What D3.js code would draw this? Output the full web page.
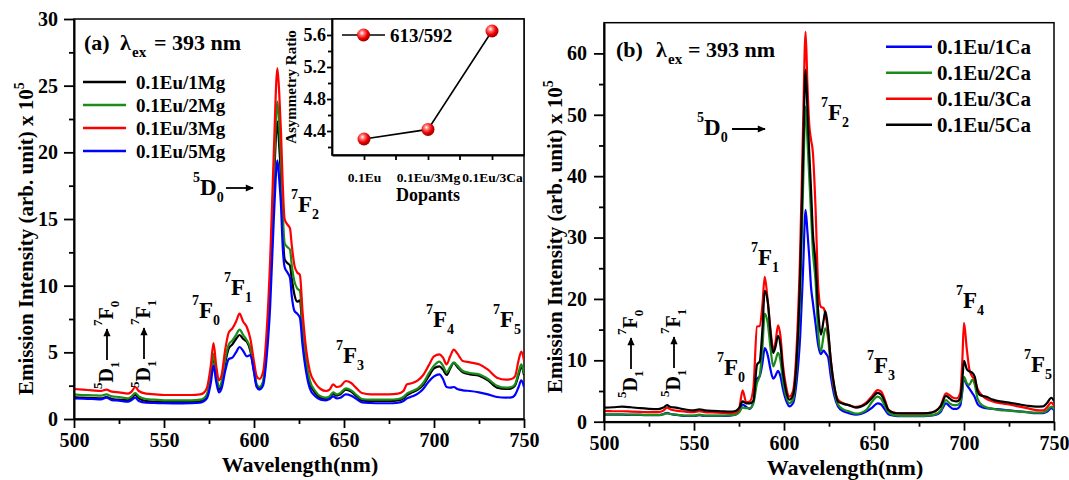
<!DOCTYPE html>
<html><head><meta charset="utf-8">
<script src="https://cdn.jsdelivr.net/npm/d3@7"></script>
<style>
body{margin:0;background:#fff}
svg{display:block}
text{font-family:"Liberation Serif","Times New Roman",serif;font-weight:bold;fill:#000}
</style>
</head><body>
<svg id="c" width="1069" height="480"></svg>
<script>
// ---------------- DATA ----------------
const ticksX = [500, 550, 600, 650, 700, 750];
const minorX = [525, 575, 625, 675, 725];
const ticksYA = [0, 5, 10, 15, 20, 25, 30];
const minorYA = [2.5, 7.5, 12.5, 17.5, 22.5, 27.5];
const ticksYB = [0, 10, 20, 30, 40, 50, 60];
const minorYB = [5, 15, 25, 35, 45, 55];

const waveA = [500,505,510,515,518,521,525,530,532,534,536,540,545,550,555,560,565,570,572,574,576,577.5,579,580.5,582,584,586,588,590,592,594,596,598,600,601.5,603,605,607,609,611,613,614,615,616,617,618.5,620,621,622.5,624,625.5,627,629,631,634,637,640,642,644,646,648,651,654,657,660,665,670,675,680,683,685,688,691,694,697,700,703,705,707,709,711,713,716,720,725,730,735,740,743,745,747,748.5,750];
const mg1 = [1.65,1.6,1.58,1.55,1.65,1.5,1.45,1.4,1.55,1.8, 1.55,1.35,1.3,1.28,1.27,1.27,1.28,1.33,1.45,1.8, 3.2,4.7,3.2,2.2,2.6,4.2,5.3,5.6,6.0,6.3, 6.0,5.8,5.1,3.6,2.5,2.3,2.7,5.2,10,17.5, 22.3,20.5,18,14,12,11.7,11.5,10.5,9.3,8.8, 8.9,6.5,4.1,2.7,1.95,1.6,1.5,1.6,1.9,1.75, 1.85,2.2,2.05,1.7,1.4,1.35,1.35,1.35,1.4,1.55, 1.8,2.0,2.2,2.55,3.2,3.8,3.95,3.7,3.3,3.8, 4.2,3.9,3.5,3.35,3.25,2.9,2.35,2.25,2.3,2.5, 3.3,3.9,3.3];
const mg2 = [1.85,1.8,1.78,1.75,1.85,1.7,1.65,1.55,1.7,1.95, 1.7,1.5,1.45,1.4,1.4,1.4,1.4,1.45,1.55,1.9, 3.3,4.9,3.4,2.4,2.8,4.5,5.6,5.9,6.3,6.7, 6.3,5.9,5.3,3.8,2.6,2.4,2.8,5.5,10.5,18.4, 23.8,22,19.5,15.5,13.2,12.9,12.7,11.5,10.3,9.8, 9.6,7,4.4,2.9,2.1,1.7,1.6,1.7,2.0,1.85, 1.95,2.3,2.15,1.8,1.5,1.45,1.45,1.45,1.5,1.65, 1.9,2.1,2.3,2.7,3.4,4.0,4.3,4.0,3.5,3.9, 4.25,4.0,3.6,3.45,3.35,3.0,2.5,2.35,2.4,2.6, 3.5,4.1,3.4];
const mg3 = [2.25,2.2,2.15,2.1,2.2,2.05,2.0,1.9,2.05,2.4, 2.1,1.9,1.85,1.8,1.8,1.8,1.8,1.85,1.95,2.4, 4.0,5.7,4.0,2.9,3.3,5.2,6.5,6.8,7.3,7.9, 7.3,6.9,6.0,4.3,3.2,3.0,3.5,6.5,12,20, 26.3,24.5,21.5,17.5,15,14.6,14.3,13,11.5,11.0, 10.8,8,5.2,3.6,2.7,2.25,2.1,2.2,2.6,2.4, 2.45,2.85,2.7,2.3,1.95,1.85,1.85,1.85,1.9,2.1, 2.6,2.7,2.9,3.3,4.0,4.7,4.85,4.6,4.1,4.7, 5.2,4.9,4.35,4.25,4.1,3.7,3.1,2.95,3.0,3.2, 4.4,5.05,4.4];
const mg5 = [1.55,1.52,1.5,1.47,1.6,1.42,1.38,1.3,1.42,1.6, 1.35,1.22,1.2,1.18,1.17,1.17,1.18,1.22,1.32,1.6, 2.7,4.0,2.8,2.0,2.3,3.6,4.5,4.6,5.0,5.4, 5.1,4.7,4.8,3.5,2.4,2.2,2.5,4.6,8.5,15, 19.4,18,16,12.8,11.4,11.0,10.6,9.2,8.1,7.9, 7.6,5.5,3.5,2.3,1.7,1.45,1.4,1.5,1.7,1.55, 1.6,1.85,1.75,1.5,1.25,1.2,1.18,1.18,1.22,1.35, 1.55,1.7,1.9,2.25,2.8,3.2,3.35,3.0,2.4,2.35, 2.4,2.25,2.15,2.1,2.0,1.85,1.65,1.6,1.62,1.8, 2.4,2.9,2.4];

const waveB = [500,505,510,515,520,525,530,533,535,537,540,543,546,550,553,556,560,565,570,573,575,577,579,581,583,585,586.5,588,589.3,591,592.5,594,595.3,596.7,598,599.5,601,603,605,607,609,610.5,612,613,614,615,616,617.5,619,620.5,622,623,624.5,626,628,630,633,636,640,643,646,649,652,654,656,658,661,665,670,675,680,684,687,690,692,694,696,698,699,700,701.5,703,704.5,706,707.5,709,712,716,720,725,730,735,740,744,746,748.5,750];
const ca1 = [1.15,1.15,1.15,1.1,1.1,1.05,1.05,1.25,1.45,1.25, 1.1,1.0,0.95,0.95,1.05,0.95,0.95,0.95,1.0,1.15, 1.6,2.8,2.4,2.1,3.2,7.0,7.4,9.5,12.0,10.8, 8.5,7.0,7.5,8.3,7.4,5.2,3.6,2.5,3.0,6.5, 14,24,34.5,31,27,22,19.5,16,12.5,11.0, 11.6,11.2,10.5,7.4,4.2,2.5,1.7,1.4,1.15,1.3, 1.7,2.3,3.0,2.8,2.0,1.2,1.0,0.9,0.9,0.9, 0.95,1.1,1.6,3.0,2.5,2.1,2.1,2.7,4.8,7.1, 6.0,5.4,4.7,4.0,2.9,2.5,2.2,2.1,2.0,1.85, 1.7,1.55,1.4,1.4,1.6,2.2,1.9];
const ca2 = [1.2,1.2,1.2,1.15,1.15,1.1,1.1,1.2,1.35,1.25, 1.15,1.05,1.0,1.0,1.15,1.0,1.0,1.0,1.05,1.15, 1.5,2.3,2.2,2.2,3.0,6.3,7.5,12,17.6,16, 12,9.0,10,11.2,10,6.5,4.3,3.0,3.6,9, 21,37,51.3,46,40,34,28,23,14.5,11.5, 14,15.2,13.5,9,5,2.8,2.0,1.7,1.3,1.45, 2.0,3.3,4.1,3.7,2.6,1.5,1.1,0.95,0.95,0.95, 1.0,1.2,1.8,3.5,3.0,2.7,2.7,3.2,5.2,7.3, 6.3,6.0,6.8,6.0,3.8,3.0,2.4,2.1,1.9,1.8, 1.65,1.55,1.47,1.5,1.8,2.45,2.0];
const ca3 = [1.75,1.7,1.7,1.65,1.6,1.55,1.55,1.8,2.3,2.0, 1.8,1.7,1.6,1.55,1.7,1.55,1.5,1.45,1.4,1.5, 2.0,5.1,3.2,3.3,5.5,15.5,15.6,19,23.6,19.5, 15,11.8,13,15.7,14,9,6,4.1,5.0,12, 28,47,63.5,55,48.5,46,44,35,22,18.7, 18.5,17.5,14.5,10,5.5,3.6,3.0,2.7,2.4,2.6, 3.2,4.2,5.15,4.9,3.6,2.0,1.5,1.35,1.35,1.35, 1.4,1.7,2.6,4.6,4.3,3.9,3.8,4.8,9.5,16.1, 12,8.5,7.4,6.8,5.4,4.6,3.8,3.3,3.0,2.8, 2.5,2.2,1.9,1.85,2.3,3.1,2.6];
const ca5 = [2.3,2.35,2.45,2.35,2.2,2.1,2.05,2.3,2.7,2.4, 2.3,2.1,1.95,1.85,2.0,1.85,1.75,1.7,1.65,1.75, 2.2,3.3,3.0,3.0,3.4,9.3,9.8,15,21.3,19.5, 14.5,11.2,12.2,14.0,12.5,8,5.2,3.6,4.3,10, 24,42,57.3,51,44,38,31,26,18,14.2, 16.5,18.0,15,10,5.7,3.3,2.9,2.7,2.3,2.5, 3.0,3.9,4.7,4.4,3.3,1.9,1.45,1.35,1.35,1.35, 1.4,1.7,2.5,4.2,3.8,3.4,3.3,3.9,6.5,9.9, 8.6,8.2,8.0,7.3,5.0,4.3,4.1,3.6,3.3,3.1, 2.85,2.6,2.45,2.5,3.0,3.9,3.4];

const seriesA = [
  {name: "0.1Eu/1Mg", values: mg1, color: "#000000"},
  {name: "0.1Eu/2Mg", values: mg2, color: "#1a8c1a"},
  {name: "0.1Eu/3Mg", values: mg3, color: "#ff0000"},
  {name: "0.1Eu/5Mg", values: mg5, color: "#0000ff"}
];
const seriesB = [
  {name: "0.1Eu/1Ca", values: ca1, color: "#0000ff"},
  {name: "0.1Eu/2Ca", values: ca2, color: "#1a8c1a"},
  {name: "0.1Eu/3Ca", values: ca3, color: "#ff0000"},
  {name: "0.1Eu/5Ca", values: ca5, color: "#000000"}
];

const dopants = ["0.1Eu", "0.1Eu/3Mg", "0.1Eu/3Ca"];
const ratio = [4.30, 4.42, 5.65];
const ratioTicks = [4.4, 4.8, 5.2, 5.6];
const ratioMinor = [4.2, 4.6, 5.0, 5.4];

// ---------------- DRAW ----------------
const svg = d3.select("#c");
const defs = svg.append("defs");
defs.append("marker").attr("id", "ah").attr("viewBox", "0 0 10 10")
  .attr("refX", 9).attr("refY", 5).attr("markerWidth", 9).attr("markerHeight", 8)
  .attr("markerUnits", "userSpaceOnUse").attr("orient", "auto")
  .append("path").attr("d", "M0,0.5 L10,5 L0,9.5 z").attr("fill", "#000");
const grad = defs.append("radialGradient").attr("id", "ball").attr("cx", "38%").attr("cy", "35%").attr("r", "65%");
grad.append("stop").attr("offset", "0%").attr("stop-color", "#ffffff");
grad.append("stop").attr("offset", "28%").attr("stop-color", "#ff7070");
grad.append("stop").attr("offset", "65%").attr("stop-color", "#ee0000");
grad.append("stop").attr("offset", "100%").attr("stop-color", "#990000");

function styleAxis(g, fs) {
  g.attr("font-family", null).attr("font-size", null);
  g.selectAll("text").attr("font-size", fs).attr("fill", "#000");
  g.selectAll("line").attr("stroke", "#000").attr("stroke-width", 1.8);
  g.select(".domain").attr("stroke", "#000").attr("stroke-width", 2);
}

function term(g, x, y, sup, base, sub, fs, ss) {
  const t = g.append("text").attr("x", x).attr("y", y).attr("font-size", fs);
  const up = Math.round(fs * 0.55), dn = Math.round(fs * 0.3);
  if (sup) t.append("tspan").attr("font-size", ss).attr("dy", -up).text(sup);
  t.append("tspan").attr("font-size", fs).attr("dy", sup ? up : 0).text(base);
  if (sub) t.append("tspan").attr("font-size", ss).attr("dy", dn).text(sub);
  return t;
}

function arrow(g, x1, y1, x2, y2) {
  g.append("line").attr("x1", x1).attr("y1", y1).attr("x2", x2).attr("y2", y2)
    .attr("stroke", "#000").attr("stroke-width", 1.8).attr("marker-end", "url(#ah)");
}

// rotated transition label "5D1 -> 7Fn"
function rotLabel(g, bx, by, lowerSub, upperSub, fs, ss) {
  const r = g.append("g").attr("transform", `translate(${bx},${by}) rotate(-90)`);
  term(r, 0, 0, "5", "D", lowerSub, fs, ss);
  arrow(r, 29, -6, 60, -6);
  term(r, 63, 0, "7", "F", upperSub, fs, ss);
}

function drawPanel(o) {
  const x = d3.scaleLinear().domain([500, 750]).range([o.l, o.r]);
  const y = d3.scaleLinear().domain(o.yDom).range([o.b, o.t]);
  const g = svg.append("g");
  g.append("rect").attr("x", o.l).attr("y", o.t).attr("width", o.r - o.l).attr("height", o.b - o.t)
    .attr("fill", "none").attr("stroke", "#000").attr("stroke-width", 1.5);
  const clipId = "clip" + o.id;
  defs.append("clipPath").attr("id", clipId).append("rect")
    .attr("x", o.l).attr("y", o.t).attr("width", o.r - o.l).attr("height", o.b - o.t);
  const line = d3.line().x(d => x(d[0])).y(d => y(d[1])).curve(d3.curveMonotoneX);
  const cg = g.append("g").attr("clip-path", `url(#${clipId})`);
  o.series.forEach(s => {
    cg.append("path").datum(o.wave.map((w, i) => [w, s.values[i]]))
      .attr("d", line).attr("fill", "none").attr("stroke", s.color)
      .attr("stroke-width", 2.2).attr("stroke-linejoin", "round");
  });
  // axes
  const xa = g.append("g").attr("transform", `translate(0,${o.b})`)
    .call(d3.axisBottom(x).tickValues(ticksX).tickSize(9).tickSizeOuter(0).tickPadding(o.xPad).tickFormat(d3.format("d")));
  styleAxis(xa, 20);
  const xm = g.append("g").attr("transform", `translate(0,${o.b})`)
    .call(d3.axisBottom(x).tickValues(minorX).tickSize(5).tickFormat(""));
  xm.select(".domain").remove(); styleAxis(xm, 20);
  const ya = g.append("g").attr("transform", `translate(${o.l},0)`)
    .call(d3.axisLeft(y).tickValues(o.yTicks).tickSize(10).tickSizeOuter(0).tickPadding(o.yPad).tickFormat(d3.format("d")));
  styleAxis(ya, 20);
  const ym = g.append("g").attr("transform", `translate(${o.l},0)`)
    .call(d3.axisLeft(y).tickValues(o.yMinor).tickSize(5).tickFormat(""));
  ym.select(".domain").remove(); styleAxis(ym, 20);
  // titles
  g.append("text").attr("x", o.xtX).attr("y", o.xtY).attr("text-anchor", "middle")
    .attr("font-size", 22).text("Wavelength(nm)");
  const yt = g.append("text").attr("transform", `translate(${o.ytX},${o.ytY}) rotate(-90)`)
    .attr("font-size", 21);
  yt.append("tspan").text("Emission Intensity (arb. unit) x 10");
  yt.append("tspan").attr("font-size", 14).attr("dy", -9).text("5");
  // legend
  o.series.forEach((s, i) => {
    const ly = o.lgY + i * o.lgDy;
    g.append("line").attr("x1", o.lgX1).attr("x2", o.lgX2).attr("y1", ly).attr("y2", ly)
      .attr("stroke", s.color).attr("stroke-width", 2.5);
    g.append("text").attr("x", o.lgTx).attr("y", ly + 7).attr("font-size", o.lgFs).text(s.name);
  });
  // excitation label
  const ex = g.append("text").attr("y", o.exY).attr("font-size", 22);
  ex.append("tspan").attr("x", o.exX[0]).text(o.tag);
  ex.append("tspan").attr("x", o.exX[1]).text("λ");
  ex.append("tspan").attr("x", o.exX[2]).attr("dy", 7).attr("font-size", 15).text("ex");
  ex.append("tspan").attr("x", o.exX[3]).attr("dy", -7).text("= 393 nm");
  return {x, y, g};
}

// Panel (a)
const A = drawPanel({
  id: "a", l: 74, r: 524, t: 19, b: 419, yDom: [0, 30], yTicks: ticksYA, yMinor: minorYA,
  wave: waveA, series: seriesA, xPad: 5, yPad: 6,
  xtX: 300, xtY: 472, ytX: 33, ytY: 395,
  lgY: 82, lgDy: 23, lgX1: 83, lgX2: 126, lgTx: 136, lgFs: 19,
  tag: "(a)", exX: [84, 120, 132, 154], exY: 50
});
// Panel (b)
const B = drawPanel({
  id: "b", l: 604, r: 1054, t: 22.7, b: 421.7, yDom: [0, 65], yTicks: ticksYB, yMinor: minorYB,
  wave: waveB, series: seriesB, xPad: 5, yPad: 7,
  xtX: 845, xtY: 475, ytX: 562, ytY: 393,
  lgY: 46.7, lgDy: 26, lgX1: 886, lgX2: 932, lgTx: 937, lgFs: 21,
  tag: "(b)", exX: [616, 656, 668, 688], exY: 57
});

// Annotations panel (a)
const ga = A.g;
term(ga, 192, 318, "7", "F", "0", 23, 14);
term(ga, 224, 295, "7", "F", "1", 23, 14);
term(ga, 291, 212, "7", "F", "2", 23, 14);
term(ga, 193, 195, "5", "D", "0", 23, 14);
arrow(ga, 226, 188, 253, 188);
term(ga, 336, 363, "7", "F", "3", 23, 14);
term(ga, 426, 327, "7", "F", "4", 23, 14);
term(ga, 493, 327, "7", "F", "5", 23, 14);
rotLabel(ga, 113, 389, "1", "0", 20, 13);
rotLabel(ga, 150, 388, "1", "1", 20, 13);

// Annotations panel (b)
const gb = B.g;
term(gb, 717, 375, "7", "F", "0", 23, 14);
term(gb, 751, 265, "7", "F", "1", 23, 14);
term(gb, 821, 120, "7", "F", "2", 23, 14);
term(gb, 697, 135, "5", "D", "0", 23, 14);
arrow(gb, 732, 129, 765, 129);
term(gb, 867, 373, "7", "F", "3", 23, 14);
term(gb, 956, 308, "7", "F", "4", 23, 14);
term(gb, 1024, 372, "7", "F", "5", 23, 14);
rotLabel(gb, 637, 398, "1", "0", 20, 13);
rotLabel(gb, 680, 397, "1", "1", 20, 13);

// Inset (asymmetry ratio)
const inL = 332, inR = 524, inT = 19, inB = 155;
const ix = d3.scalePoint().domain(dopants).range([inL, inR]).padding(0.5);
const iy = d3.scaleLinear().domain([4.1, 5.8]).range([inB, inT]);
const gi = svg.append("g");
gi.append("rect").attr("x", inL).attr("y", inT).attr("width", inR - inL).attr("height", inB - inT)
  .attr("fill", "#fff").attr("stroke", "#000").attr("stroke-width", 1.5);
const ixa = gi.append("g").attr("transform", `translate(0,${inB})`)
  .call(d3.axisBottom(ix).tickSize(5).tickSizeOuter(0).tickPadding(12));
styleAxis(ixa, 13.5);
ixa.select(".domain").attr("stroke-width", 1.8);
const step = ix.step();
const ixm = gi.append("g").attr("transform", `translate(0,${inB})`);
dopants.slice(0, -1).forEach(d => {
  ixm.append("line").attr("x1", ix(d) + step / 2).attr("x2", ix(d) + step / 2).attr("y1", 0).attr("y2", 5)
    .attr("stroke", "#000").attr("stroke-width", 1.8);
});
const iya = gi.append("g").attr("transform", `translate(${inL},0)`)
  .call(d3.axisLeft(iy).tickValues(ratioTicks).tickSize(5).tickSizeOuter(0).tickPadding(1).tickFormat(d3.format(".1f")));
styleAxis(iya, 18);
iya.select(".domain").attr("stroke-width", 1.8);
const iym = gi.append("g").attr("transform", `translate(${inL},0)`)
  .call(d3.axisLeft(iy).tickValues(ratioMinor).tickSize(4).tickFormat(""));
iym.select(".domain").remove(); styleAxis(iym, 18);
gi.append("text").attr("x", 428).attr("y", 201).attr("text-anchor", "middle").attr("font-size", 18).text("Dopants");
gi.append("text").attr("transform", `translate(296,87) rotate(-90)`).attr("text-anchor", "middle")
  .attr("font-size", 15).text("Asymmetry Ratio");
const pts = dopants.map((d, i) => [ix(d), iy(ratio[i])]);
gi.append("path").attr("d", d3.line()(pts)).attr("fill", "none").attr("stroke", "#000").attr("stroke-width", 1.6);
gi.selectAll("circle.pt").data(pts).join("circle").attr("class", "pt")
  .attr("cx", d => d[0]).attr("cy", d => d[1]).attr("r", 6.5).attr("fill", "url(#ball)");
// inset legend
gi.append("line").attr("x1", 342).attr("x2", 385).attr("y1", 35).attr("y2", 35).attr("stroke", "#000").attr("stroke-width", 1.6);
gi.append("circle").attr("cx", 363.5).attr("cy", 35).attr("r", 6.5).attr("fill", "url(#ball)");
gi.append("text").attr("x", 390).attr("y", 42).attr("font-size", 19).text("613/592");
</script>
</body></html>
